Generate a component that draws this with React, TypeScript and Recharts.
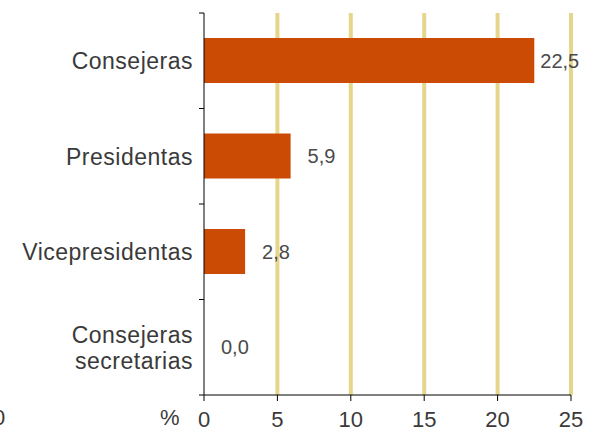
import { Bar, BarChart, CartesianGrid, ReferenceDot, XAxis, YAxis } from 'recharts';

const categories = ['Consejeras', 'Presidentas', 'Vicepresidentas', 'Consejeras secretarias'];
const values = [22.5, 5.9, 2.8, 0.0];
const xTicks = [0, 5, 10, 15, 20, 25];
const gridValues = [5, 10, 15, 20, 25];

const data = categories.map((name, i) => ({ name, value: values[i] }));

const W = 594;
const H = 432;
const TOP = 13;
const BOTTOM = 37;
const RIGHT = 23;
const AXIS_W = 204;
const band = (H - TOP - BOTTOM) / categories.length;
const xMax = xTicks[xTicks.length - 1];

const fmt = (v: number) => v.toFixed(1).replace('.', ',');

// grid lines at 5..25 only (none on the zero line)
const gridCoords = (args: any) => {
  const xAxis = args?.xAxis;
  if (xAxis && typeof xAxis.scale === 'function') {
    return gridValues.map((v) => xAxis.scale(v));
  }
  const left = args?.offset?.left ?? AXIS_W;
  const width = args?.offset?.width ?? W - AXIS_W - RIGHT;
  return gridValues.map((v) => left + (width * v) / xMax);
};

const CategoryTick = (props: any) => {
  const { x, y, payload, index } = props;
  const words: string[] = String(payload.value).split(' ');
  const lines = words.length > 1 ? words : [payload.value];
  const half = band / 2;
  return (
    <g>
      <line x1={x - 5} x2={x} y1={y - half} y2={y - half} stroke="#000" />
      {index === categories.length - 1 && (
        <line x1={x - 5} x2={x} y1={y + half} y2={y + half} stroke="#000" />
      )}
      {lines.map((l, i) => (
        <text
          key={i}
          x={x - 11}
          y={y + (i - (lines.length - 1) / 2) * 26}
          dy="0.36em"
          textAnchor="end"
          fill="#3a3a3a"
          fontSize={23}
          letterSpacing={0.5}
        >
          {l}
        </text>
      ))}
    </g>
  );
};

const valueLabel = (v: number) => (props: any) => {
  const { viewBox } = props;
  const cx = viewBox.x + viewBox.width / 2;
  const cy = viewBox.y + viewBox.height / 2;
  const pad = cx + 17 + 40 > 580 ? 6 : 17;
  return (
    <text x={cx + pad} y={cy} dy="0.36em" fill="#4a4a4a" fontSize={20}>
      {fmt(v)}
    </text>
  );
};

export default function App() {
  return (
    <div
      style={{
        position: 'absolute',
        left: 0,
        top: 0,
        width: W,
        height: H,
        background: '#fff',
        fontFamily: '"Liberation Sans", Arial, sans-serif',
        overflow: 'hidden',
      }}
    >
      <BarChart
        width={W}
        height={H}
        data={data}
        layout="vertical"
        margin={{ top: TOP, right: RIGHT, left: 0, bottom: 0 }}
      >
        <CartesianGrid
          horizontal={false}
          stroke="#e6d68c"
          strokeWidth={4}
          verticalCoordinatesGenerator={gridCoords}
        />
        <XAxis
          type="number"
          domain={[0, xMax]}
          ticks={xTicks}
          height={BOTTOM}
          axisLine={{ stroke: '#000' }}
          tickLine={{ stroke: '#000' }}
          tickSize={6}
          tickMargin={10}
          tick={{ fill: '#3a3a3a', fontSize: 22 }}
        />
        <YAxis
          type="category"
          dataKey="name"
          width={AXIS_W}
          axisLine={{ stroke: '#000' }}
          tickLine={false}
          tickSize={0}
          tickMargin={0}
          tick={<CategoryTick />}
          interval={0}
        />
        <Bar dataKey="value" fill="#cc4b04" barSize={45} isAnimationActive={false} />
        {data.map((d) => (
          <ReferenceDot
            key={d.name}
            x={d.value}
            y={d.name}
            r={1}
            fill="none"
            stroke="none"
            label={valueLabel(d.value)}
          />
        ))}
      </BarChart>
      <span style={{ position: 'absolute', left: 160, top: 405, fontSize: 22, color: '#3a3a3a' }}>%</span>
      <span style={{ position: 'absolute', left: -7, top: 405, fontSize: 22, color: '#3a3a3a' }}>0</span>
    </div>
  );
}
